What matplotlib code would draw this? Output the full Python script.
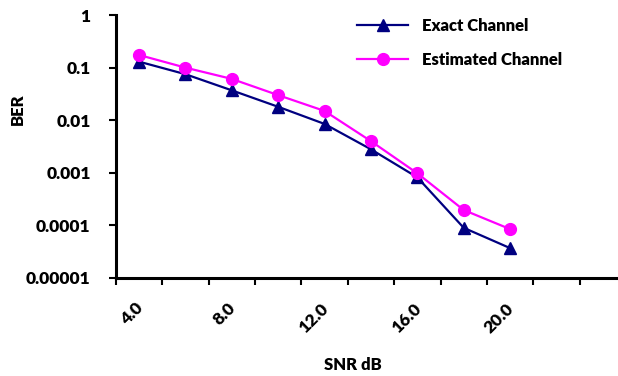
import matplotlib
matplotlib.use('Agg')
from matplotlib import pyplot as plt
from matplotlib import transforms
import numpy as np

plt.rcParams['font.family'] = ['Lato', 'DejaVu Sans']
W = 'heavy'

snr = [4, 6, 8, 10, 12, 14, 16, 18, 20]
ber_exact = [0.13, 0.075, 0.037, 0.018, 0.0085, 0.0028, 0.00082, 0.00009, 0.000037]
ber_est = [0.174, 0.1, 0.061, 0.030, 0.015, 0.004, 0.00098, 0.000196, 0.000085]
label_snr = [4, 8, 12, 16, 20]
label_txt = ['4.0', '8.0', '12.0', '16.0', '20.0']
y_ticks = [1e-5, 1e-4, 1e-3, 1e-2, 1e-1, 1]
y_txt = ['0.00001', '0.0001', '0.001', '0.01', '0.1', '1']

fig = plt.figure(figsize=(6.18, 3.76), dpi=100)
ax = fig.add_axes([115.7/618, 1-278/376, 1-115.7/618, (278-15)/376])

ax.plot(snr, ber_exact, color='#000080', lw=1.6, marker='^', ms=8.5, label='Exact Channel')
ax.plot(snr, ber_est, color='#FF00FF', lw=1.6, marker='o', ms=8.5, label='Estimated Channel')

ax.set_yscale('log')
ax.set_ylim(1e-5, 1)
ax.set_yticks(y_ticks)
ax.set_yticklabels(y_txt, fontsize=12.5, fontweight=W)
ax.yaxis.set_minor_locator(matplotlib.ticker.NullLocator())

# category axis: tick marks on the borders, labels every second category
ax.set_xlim(3, 3 + 2*502.3/46.4)
ax.set_xticks(np.arange(3, 25, 2))
ax.set_xticklabels([])
ax.set_xticks(label_snr, minor=True)
ax.set_xticklabels(label_txt, minor=True, rotation=45, ha='right', fontsize=12.5, fontweight=W)
ax.tick_params(axis='x', which='minor', length=0, pad=8)
ax.tick_params(axis='both', which='major', length=5, width=1.5, direction='out')
ax.tick_params(axis='y', which='major', pad=13)
shift = transforms.ScaledTranslation(7/100, -11/100, fig.dpi_scale_trans)
for lab in ax.get_xticklabels(minor=True):
    lab.set_transform(lab.get_transform() + shift)

for s in ['top', 'right']:
    ax.spines[s].set_visible(False)
for s in ['left', 'bottom']:
    ax.spines[s].set_linewidth(2.2)

ax.set_ylabel('BER', fontsize=12, fontweight=W)
ax.yaxis.set_label_coords(-90/502.3, 0.64)
ax.set_xlabel('SNR dB', fontsize=12, fontweight=W)
ax.xaxis.set_label_coords((353-115.7)/502.3, -(357-278)/263)

ax.legend(loc='upper left', bbox_to_anchor=((350-115.7)/502.3, 1.015), frameon=False,
          prop={'size': 12, 'weight': W}, handlelength=3.1, labelspacing=1.1, borderaxespad=0)

fig.savefig('out.png', dpi=100)
